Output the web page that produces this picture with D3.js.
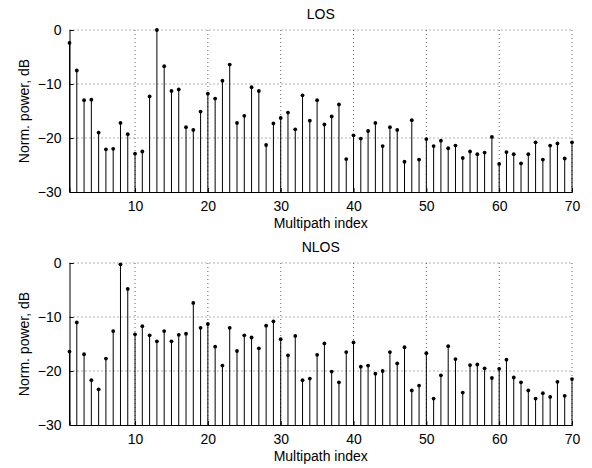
<!DOCTYPE html>
<html>
<head>
<meta charset="utf-8">
<script src="https://cdn.jsdelivr.net/npm/d3@7"></script>
<style>
  html, body { margin: 0; padding: 0; background: #fff; }
  svg { display: block; }
  text { font-family: "Liberation Sans", Arial, Helvetica, sans-serif; fill: #000; }
</style>
</head>
<body>
<svg id="chart" width="592" height="468"></svg>
<script>
// Multipath indices shared by both panels
const paths = d3.range(1, 71);

// Normalised power per multipath component, dB
const losPower = [
  -2.4, -7.5, -13.0, -12.9, -19.0, -22.1, -22.0, -17.2, -19.3, -22.9,
  -22.5, -12.3, 0.0, -6.7, -11.3, -11.0, -18.0, -18.5, -15.1, -11.8,
  -12.7, -9.4, -6.4, -17.2, -15.9, -10.6, -11.3, -21.3, -17.3, -16.3,
  -15.3, -18.4, -12.1, -16.8, -13.0, -17.5, -16.0, -13.8, -23.9, -19.5,
  -20.1, -18.7, -17.2, -21.5, -18.0, -18.5, -24.4, -16.7, -24.0, -20.2,
  -21.5, -20.5, -21.9, -21.4, -23.7, -22.5, -23.0, -22.7, -19.8, -24.8,
  -22.6, -23.0, -24.7, -23.0, -20.8, -24.0, -21.4, -21.0, -23.8, -20.8
];
const nlosPower = [
  -16.4, -11.0, -16.9, -21.7, -23.4, -17.7, -12.6, -0.25, -4.8, -13.2,
  -11.7, -13.4, -14.5, -12.6, -14.5, -13.3, -13.1, -7.4, -12.0, -11.3,
  -15.5, -19.0, -12.0, -16.3, -13.4, -13.8, -15.8, -11.6, -10.8, -14.1,
  -17.1, -13.5, -21.7, -21.4, -17.0, -14.9, -20.1, -22.1, -16.5, -14.7,
  -19.2, -19.0, -20.5, -20.0, -16.5, -18.6, -15.6, -23.6, -22.7, -16.7,
  -25.1, -20.8, -15.4, -17.8, -24.0, -18.9, -18.8, -19.5, -21.3, -19.6,
  -17.9, -21.2, -22.1, -23.6, -25.1, -24.1, -24.8, -22.0, -24.6, -21.5
];

const xTicks = [10, 20, 30, 40, 50, 60, 70];
const yTicks = [-30, -20, -10, 0];

const svg = d3.select("#chart");
const left = 69.5, right = 572, plotH = 162;

const x = d3.scaleLinear().domain([1, 70]).range([left, right]);

function drawPanel(top, title, values) {
  const y = d3.scaleLinear().domain([-30, 0]).range([top + plotH, top]);
  const g = svg.append("g");

  // dotted grid
  g.append("g").selectAll("line").data(xTicks).join("line")
    .attr("x1", d => x(d)).attr("x2", d => x(d))
    .attr("y1", top).attr("y2", top + plotH)
    .attr("stroke", "#666").attr("stroke-width", 1)
    .attr("stroke-dasharray", "1,3");
  g.append("g").selectAll("line").data(yTicks.filter(d => d > -30)).join("line")
    .attr("x1", left).attr("x2", right)
    .attr("y1", d => y(d)).attr("y2", d => y(d))
    .attr("stroke", "#666").attr("stroke-width", 1)
    .attr("stroke-dasharray", "1,3");

  // stems
  g.append("g").selectAll("line").data(paths).join("line")
    .attr("x1", d => x(d)).attr("x2", d => x(d))
    .attr("y1", y(-30)).attr("y2", (d, i) => y(values[i]))
    .attr("stroke", "#000").attr("stroke-width", 1);
  g.append("g").selectAll("circle").data(paths).join("circle")
    .attr("cx", d => x(d)).attr("cy", (d, i) => y(values[i]))
    .attr("r", 1.9).attr("fill", "#000");

  // axes (ticks pointing inwards)
  const xAxis = d3.axisBottom(x).tickValues(xTicks).tickSize(-4).tickPadding(9);
  const yAxis = d3.axisLeft(y).tickValues(yTicks).tickSize(-4).tickPadding(8)
    .tickFormat(d => d < 0 ? "\u2212" + Math.abs(d) : d);

  const gx = g.append("g").attr("transform", `translate(0,${top + plotH})`).call(xAxis);
  const gy = g.append("g").attr("transform", `translate(${left},0)`).call(yAxis);
  [gx, gy].forEach(a => {
    a.select(".domain").attr("stroke", "#000");
    a.selectAll(".tick line").attr("stroke", "#000");
    a.selectAll("text").attr("font-size", 14)
      .attr("font-family", "'Liberation Sans', Arial, sans-serif");
  });

  g.append("text")
    .attr("x", (left + right) / 2).attr("y", top - 11)
    .attr("text-anchor", "middle").attr("font-size", 14)
    .text(title);
  g.append("text")
    .attr("x", (left + right) / 2).attr("y", top + plotH + 36)
    .attr("text-anchor", "middle").attr("font-size", 14)
    .text("Multipath index");
  g.append("text")
    .attr("transform", `translate(${29},${top + plotH / 2}) rotate(-90)`)
    .attr("text-anchor", "middle").attr("font-size", 14)
    .text("Norm. power, dB");
}

drawPanel(30, "LOS", losPower);
drawPanel(263, "NLOS", nlosPower);
</script>
</body>
</html>
